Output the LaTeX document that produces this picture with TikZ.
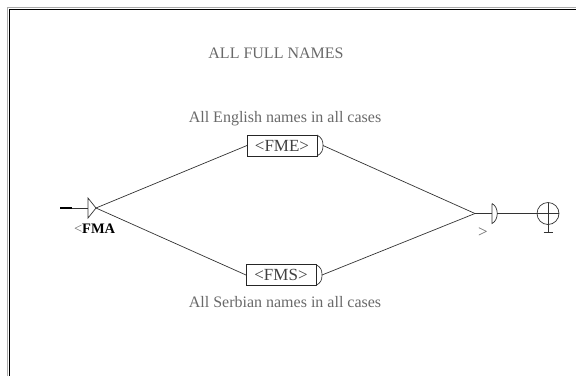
\documentclass[tikz,border=0pt]{standalone}
\usepackage{fontspec}
\setmainfont{Liberation Serif}
\definecolor{textgray}{RGB}{105,105,105}
\definecolor{framegray}{RGB}{170,170,170}
\begin{document}
\begin{tikzpicture}[x=1pt,y=-1pt,
  every node/.style={inner sep=0pt, outer sep=0pt},
  comment/.style={text=textgray, font=\fontsize{16}{18}\selectfont},
  boxnode/.style={draw=black!85, line width=0.8pt, minimum width=70pt,
    minimum height=21pt, font=\fontsize{17}{18}\selectfont, text=black!75},
  wire/.style={draw=black!80, line width=0.7pt},
  outlabel/.style={text=textgray, font=\fontsize{17}{18}\selectfont}]

\useasboundingbox (0,0) rectangle (576,376);

% sunken window frame
\draw[framegray, line width=0.8pt] (7.5,376) -- (7.5,7.5) -- (576,7.5);
\draw[black, line width=1.4pt] (9.2,376) -- (9.2,9.7) -- (576,9.7);

% comments and boxes
\node[comment] (title) at (276,53) {ALL FULL NAMES};
\node[comment] (engnote) at (285,119) {All English names in all cases};
\node[boxnode] (fme) at (282,145.5) {<FME>};
\node[boxnode] (fms) at (281,275) {<FMS>};
\node[comment] (srbnote) at (285,302) {All Serbian names in all cases};

% initial state
\coordinate (instart) at (60,208);
\coordinate (inthick) at (72,208);
\coordinate (inbase) at (88,208);
\coordinate (inittip) at (96,208);
\draw[black, line width=2pt] (instart) -- (inthick);
\draw[wire] (inthick) -- (inbase);
\draw[wire, fill=white] (88,198) -- (inittip) -- (88,218) -- cycle;
\node[font=\bfseries\fontsize{14.5}{16}\selectfont, anchor=west] (fma) at (74,229)
  {\textcolor{textgray}{\mdseries<}FMA};

% output brackets of the boxes
\coordinate (fmeout) at ([xshift=6pt]fme.east);
\coordinate (fmsout) at ([xshift=6pt]fms.east);
\draw[wire] (fme.north east) .. controls +(5,3) and +(0,-5) .. (fmeout)
  .. controls +(0,5) and +(5,-3) .. (fme.south east);
\draw[wire] (fms.north east) .. controls +(5,3) and +(0,-5) .. (fmsout)
  .. controls +(0,5) and +(5,-3) .. (fms.south east);

% transitions
\coordinate (merge) at (475,213.5);
\draw[wire] (inittip) -- (fme.west);
\draw[wire] (inittip) -- (fms.west);
\draw[wire] (fmeout) -- (merge);
\draw[wire] (fmsout) -- (merge);

% final arrow
\coordinate (finin) at (492,213.5);
\coordinate (finout) at (497.3,213.5);
\draw[wire] (merge) -- (finin);
\draw[wire] (492,203.5) -- (492,223.5)
  .. controls (499,220) and (499,207) .. (492,203.5);
\node[outlabel] (outmark) at (483,233) {>};

% terminal state
\node[circle, draw=black!80, line width=0.7pt, minimum size=22pt] (term) at (548,213.5) {};
\draw[wire] (finout) -- (term.west);
\draw[wire] (term.north) -- (term.south);
\draw[wire] (term.west) -- (term.east);
\coordinate (tail) at ([yshift=-8pt]term.south);
\draw[wire] (term.south) -- (tail);
\draw[wire] ([xshift=-4.5pt]tail) -- ([xshift=4.5pt]tail);
\end{tikzpicture}
\end{document}
